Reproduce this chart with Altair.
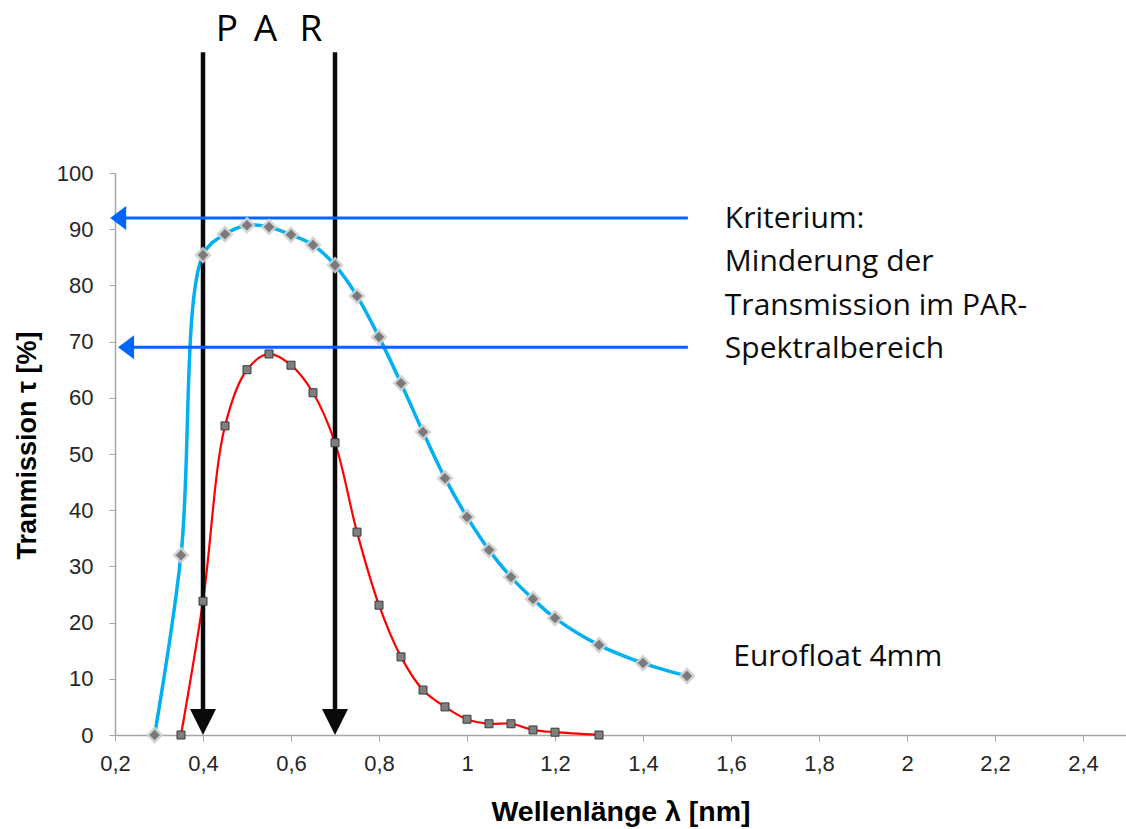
import altair as alt
import pandas as pd

# ---- series data ----
blue_x = [0.29, 0.35, 0.40, 0.45, 0.50, 0.55, 0.60, 0.65, 0.70, 0.75, 0.80,
          0.85, 0.90, 0.95, 1.00, 1.05, 1.10, 1.15, 1.20, 1.30, 1.40, 1.50]
blue_y = [0.0, 32.0, 85.4, 89.1, 90.7, 90.4, 89.0, 87.2, 83.6, 78.1, 70.8,
          62.6, 53.9, 45.7, 38.8, 32.9, 28.1, 24.2, 20.8, 16.0, 12.8, 10.5]

red_x = [0.35, 0.40, 0.45, 0.50, 0.55, 0.60, 0.65, 0.70, 0.75, 0.80,
         0.85, 0.90, 0.95, 1.00, 1.05, 1.10, 1.15, 1.20, 1.30]
red_y = [0.0, 23.8, 55.0, 65.0, 67.8, 65.8, 60.9, 52.0, 36.1, 23.1,
         13.9, 8.0, 5.0, 2.8, 2.0, 2.0, 0.9, 0.5, 0.0]

x_ticks = [0.2, 0.4, 0.6, 0.8, 1.0, 1.2, 1.4, 1.6, 1.8, 2.0, 2.2, 2.4]
y_ticks = [0, 10, 20, 30, 40, 50, 60, 70, 80, 90, 100]

# ---- annotations ----
par_x = [0.4, 0.7]
par_top = [121.5, 121.5]
par_bottom = [2.0, 2.0]
par_head_y = [0.0, 0.0]

crit_y = [92.0, 69.0]
crit_tip_x = [0.189, 0.207]
crit_start_x = [0.205, 0.223]
crit_end_x = [1.502, 1.502]

par_letters = ["P", "A", "R"]
par_letter_x = [0.4545, 0.542, 0.6455]
par_letter_y = [123.4, 123.4, 123.4]

note_lines = ["Kriterium:", "Minderung der", "Transmission im PAR-", "Spektralbereich"]
note_x = [1.586, 1.586, 1.586, 1.586]
note_y = [90.2, 82.5, 74.8, 67.1]

series_label = ["Eurofloat 4mm"]
series_label_x = [1.605]
series_label_y = [12.3]

blue = pd.DataFrame({"x": blue_x, "y": blue_y})
red = pd.DataFrame({"x": red_x, "y": red_y})
par = pd.DataFrame({"x": par_x, "y": par_top, "y2": par_bottom, "yh": par_head_y})
crit = pd.DataFrame({"x": crit_start_x, "x2": crit_end_x, "xt": crit_tip_x, "y": crit_y})
letters = pd.DataFrame({"t": par_letters, "x": par_letter_x, "y": par_letter_y})
notes = pd.DataFrame({"t": note_lines, "x": note_x, "y": note_y})
slabel = pd.DataFrame({"t": series_label, "x": series_label_x, "y": series_label_y})

AX_FONT = "Liberation Sans"
xscale = alt.Scale(domain=[0.2, 2.4977], nice=False, zero=False)
yscale = alt.Scale(domain=[0, 100], nice=False, zero=True)

xaxis = alt.Axis(
    values=x_ticks, grid=False,
    labelExpr="replace(format(datum.value, '~g'), '.', ',')",
    labelFont=AX_FONT, labelFontSize=22, labelColor="#262626", labelPadding=12,
    labelFlush=False,
    domainColor="#a6a6a6", tickColor="#a6a6a6", tickSize=6, domainWidth=1.5,
    title="Wellenlänge λ [nm]", titleFont=AX_FONT, titleFontSize=28.5,
    titleFontWeight="bold", titleColor="#000000", titleY=76, titleBaseline="middle",
)
yaxis = alt.Axis(
    values=y_ticks, grid=False,
    labelFont=AX_FONT, labelFontSize=22, labelColor="#262626", labelPadding=16,
    labelFlush=False,
    domainColor="#a6a6a6", tickColor="#a6a6a6", tickSize=6, domainWidth=1.5,
    title="Tranmission  τ [%]", titleFont=AX_FONT, titleFontSize=27,
    titleFontWeight="bold", titleColor="#000000", titleX=-88, titleY=272,
    titleBaseline="middle", titleAngle=270,
)


def X(field="x"):
    return alt.X(f"{field}:Q", scale=xscale, axis=xaxis)


def Y(field="y"):
    return alt.Y(f"{field}:Q", scale=yscale, axis=yaxis)


blue_line = alt.Chart(blue).mark_line(
    color="#00B0F0", strokeWidth=3.5, interpolate="catmull-rom"
).encode(x=X(), y=Y())
red_line = alt.Chart(red).mark_line(
    color="#FF0000", strokeWidth=2.2, interpolate="catmull-rom"
).encode(x=X(), y=Y())

par_rules = alt.Chart(par).mark_rule(color="#0a0a0a", strokeWidth=4.5).encode(
    x=X(), y=Y(), y2="y2:Q"
)
par_heads = alt.Chart(par).mark_point(
    shape="M-1,-1L1,-1L0,1Z", size=676, filled=True, color="#0a0a0a", opacity=1,
    yOffset=-13
).encode(x=X(), y=Y("yh"))

crit_rules = alt.Chart(crit).mark_rule(color="#0066FF", strokeWidth=3).encode(
    x=X(), x2="x2:Q", y=Y()
)
crit_heads = alt.Chart(crit).mark_point(
    shape="M-1,0L1,-1.5L1,1.5Z", size=256, filled=True, color="#0066FF", opacity=1,
    xOffset=8
).encode(x=X("xt"), y=Y())

blue_halo = alt.Chart(blue).mark_point(
    shape="diamond", size=300, filled=True, color="#cfcfcf", opacity=0.9
).encode(x=X(), y=Y())
blue_pts = alt.Chart(blue).mark_point(
    shape="diamond", size=110, filled=True, color="#7a7a7a", opacity=1
).encode(x=X(), y=Y())
red_pts = alt.Chart(red).mark_point(
    shape="square", size=64, filled=True, fill="#7f7f7f", stroke="#3a3a3a",
    strokeWidth=1, opacity=1
).encode(x=X(), y=Y())

par_text = alt.Chart(letters).mark_text(
    font="Open Sans", fontSize=37, color="#000000", align="center", baseline="alphabetic"
).encode(x=X(), y=Y(), text="t:N")
note_text = alt.Chart(notes).mark_text(
    font="Open Sans", fontSize=30, color="#0d0d0d", align="left", baseline="alphabetic"
).encode(x=X(), y=Y(), text="t:N")
label_text = alt.Chart(slabel).mark_text(
    font="Open Sans", fontSize=30, color="#0d0d0d", align="left", baseline="alphabetic"
).encode(x=X(), y=Y(), text="t:N")

chart = alt.layer(
    blue_line, red_line, par_rules, par_heads, crit_rules, crit_heads,
    blue_halo, blue_pts, red_pts, par_text, note_text, label_text
).properties(
    width=1011, height=562,
    padding={"left": 115, "top": 173, "right": 0, "bottom": 94},
    autosize=alt.AutoSizeParams(type="none"),
    background="#ffffff",
).configure_view(stroke=None)

chart.save("out.html", embed_options={"renderer": "svg", "actions": False})
